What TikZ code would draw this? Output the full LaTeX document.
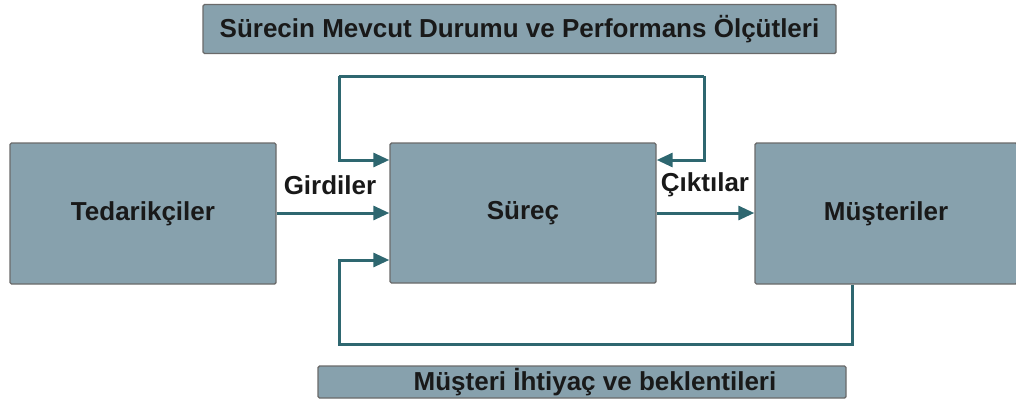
\documentclass[tikz,border=0pt]{standalone}
\usepackage{fontspec}
\setmainfont{Liberation Sans}
\usetikzlibrary{arrows.meta}
\definecolor{boxfill}{HTML}{87A1AD}
\definecolor{boxline}{HTML}{6A6A6A}
\definecolor{flow}{HTML}{2E6770}
\tikzset{
  x=1pt,y=-1pt,
  box/.style={draw=boxline,line width=1.4pt,fill=boxfill,rounded corners=1.5pt,inner sep=0pt,
    font=\fontsize{26}{30}\selectfont\bfseries,text=black!90},
  flowline/.style={draw=flow,line width=3pt,-{Triangle[length=16pt,width=14pt]}},
  plainflow/.style={draw=flow,line width=3pt},
  lbl/.style={font=\fontsize{26}{30}\selectfont\bfseries,text=black!90,inner sep=0pt}
}
\begin{document}
\begin{tikzpicture}
\useasboundingbox (0,0) rectangle (1016,402);
% boxes
\node[box,minimum width=633pt,minimum height=49pt] (top) at (519.5,29) {Sürecin Mevcut Durumu ve Performans Ölçütleri};
\node[box,minimum width=266pt,minimum height=141pt] (ted) at (143,213.5) {Tedarikçiler};
\node[box,minimum width=266pt,minimum height=140pt] (sur) at (523,213) {Süreç};
\node[box,minimum width=262pt,minimum height=141pt] (mus) at (886,213.5) {Müşteriler};
\node[box,minimum width=528pt,minimum height=32pt] (bot) at (582,382) {\hspace*{26pt}Müşteri İhtiyaç ve beklentileri};
% labels
\node[lbl] (gir) at (330,185) {Girdiler};
\node[lbl] (cik) at (705,185) {Çıktılar};
% coordinates
\coordinate (tl) at (339,76);
\coordinate (tr) at (704,76);
\coordinate (bl) at (339,344);
\coordinate (br) at (852,344);
% main flow
\draw[flowline] (ted.east |- 0,213) -- (sur.west |- 0,213);
\draw[flowline] (sur.east |- 0,213) -- (mus.west |- 0,213);
% top feedback
\draw[plainflow] (tl) -- (tr);
\draw[flowline] (tl) -- (tl |- 0,160) -- (sur.west |- 0,160);
\draw[flowline] (tr) -- (tr |- 0,160) -- (sur.east |- 0,160);
% bottom feedback
\draw[flowline] (mus.south -| br) -- (br) -- (bl) -- (bl |- 0,260) -- (sur.west |- 0,260);
\end{tikzpicture}
\end{document}
